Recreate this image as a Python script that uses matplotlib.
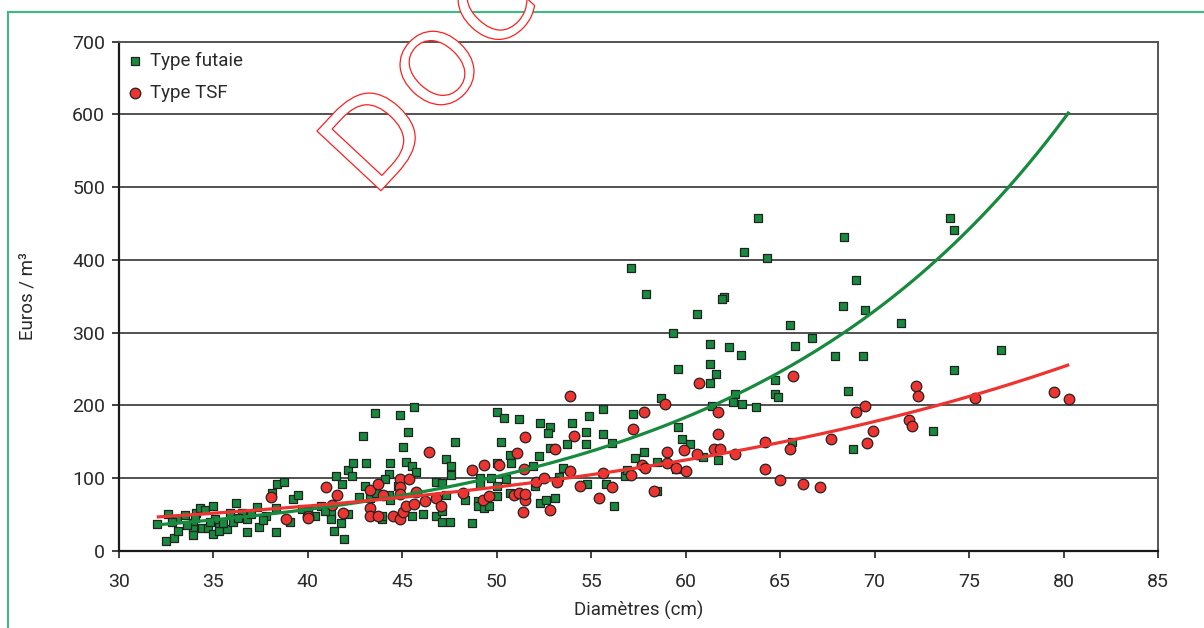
import numpy as np
import matplotlib
matplotlib.use("Agg")
import matplotlib.pyplot as plt
from matplotlib.lines import Line2D
from matplotlib.patches import PathPatch
from matplotlib.textpath import TextPath
from matplotlib.font_manager import FontProperties
from matplotlib.transforms import Affine2D, IdentityTransform

plt.rcParams['font.family'] = ['Liberation Sans Narrow', 'Roboto', 'DejaVu Sans']

# ---- données : diamètre (cm) / prix (euros par m3) ----
futaie_diam = [
    32.0, 32.5, 32.9, 33.1, 32.6, 33.05, 33.5, 33.9, 33.9, 33.9, 34.1, 34.3, 34.55, 34.96,
    34.4, 34.7, 35.0, 35.3, 35.3, 35.7, 35.1, 35.9, 36.2, 36.5, 36.05, 36.8, 36.8, 37.3,
    37.4, 37.8, 38.3, 38.1, 38.35, 38.75, 38.3, 39.05, 39.2, 39.5, 39.7, 40.4, 40.7, 41.2,
    41.2, 41.4, 41.9, 41.75, 42.1, 41.5, 41.8, 42.1, 42.35, 42.4, 42.7, 43.0, 43.1, 42.9,
    43.55, 44.35, 44.3, 44.1, 44.9, 45.3, 45.05, 45.2, 45.5, 45.6, 43.9, 43.9, 45.5, 44.3,
    43.3, 43.6, 44.35, 44.75, 32.8, 34.0, 34.8, 35.5, 36.3, 37.0, 37.6, 33.6, 40.0, 40.9,
    45.7, 46.1, 46.8, 46.8, 47.1, 47.3, 47.6, 47.6, 47.1, 47.1, 47.5, 48.7, 47.8, 48.3,
    49.1, 49.0, 49.0, 49.3, 49.6, 49.7, 49.1, 47.3, 50.0, 50.4, 51.2, 50.7, 50.75, 50.0,
    50.2, 50.5, 50.0, 50.7, 50.0, 51.9, 52.0, 52.3, 52.6, 53.1, 52.25, 52.3, 52.8, 52.7,
    52.8, 53.5, 53.3, 53.7, 54.0, 54.7, 54.7, 54.9, 55.6, 55.6, 56.1, 54.8, 55.8, 56.2,
    57.2, 58.7, 56.8, 56.9, 57.3, 57.8, 58.5, 58.5, 59.6, 59.8, 60.2, 60.9, 61.7, 59.5,
    59.6, 57.1, 57.9, 60.6, 59.3, 61.3, 61.3, 61.6, 61.3, 62.0, 61.9, 62.3, 62.9, 63.1,
    63.8, 64.3, 62.6, 62.5, 63.0, 63.7, 61.4, 64.7, 64.7, 64.9, 65.5, 65.8, 66.7, 65.6,
    68.4, 68.3, 69.0, 69.5, 67.9, 69.4, 68.6, 68.85, 71.4, 73.1, 74.0, 74.2, 74.2, 76.7,
]
futaie_prix = [
    37, 13, 17, 27, 50, 44, 49, 38, 30, 21, 52, 59, 56, 62,
    31, 31, 23, 34, 27, 30, 43, 52, 66, 52, 40, 44, 25, 60,
    33, 47, 25, 79, 91, 95, 59, 39, 71, 76, 57, 47, 61, 52,
    43, 27, 16, 38, 50, 102, 92, 111, 103, 120, 74, 89, 120, 157,
    189, 120, 105, 99, 187, 163, 143, 122, 116, 198, 43, 48, 47, 77,
    72, 79, 69, 89, 40, 45, 40, 38, 45, 50, 42, 35, 55, 55,
    108, 50, 47, 94, 93, 126, 117, 104, 54, 39, 39, 38, 150, 70,
    100, 68, 61, 59, 62, 100, 91, 77, 190, 182, 181, 132, 120, 120,
    150, 99, 89, 79, 75, 117, 89, 66, 70, 72, 130, 175, 170, 162,
    141, 114, 101, 146, 175, 163, 147, 185, 195, 160, 148, 92, 92, 62,
    188, 210, 102, 111, 127, 136, 122, 82, 170, 154, 147, 129, 124, 112,
    250, 389, 353, 326, 299, 284, 256, 243, 231, 349, 346, 280, 269, 411,
    457, 402, 216, 204, 202, 198, 199, 235, 216, 211, 311, 282, 292, 150,
    431, 336, 372, 331, 268, 267, 220, 140, 313, 165, 458, 441, 248, 276,
]

tsf_diam = [
    38.05, 38.85, 40.0, 40.0, 40.94, 41.55, 41.84, 41.3, 43.3, 43.7, 43.96, 43.3, 43.3, 43.7,
    44.5, 44.9, 45.05, 44.9, 45.35, 44.9, 44.9, 45.2, 45.6, 45.7, 46.2, 46.4, 46.8, 47.05,
    48.2, 48.7, 49.25, 49.3, 49.6, 50.1, 50.9, 51.05, 51.2, 51.4, 51.45, 51.5, 51.5, 51.5,
    52.1, 52.5, 52.8, 53.1, 53.2, 53.9, 53.9, 54.1, 54.4, 55.4, 55.6, 56.1, 57.1, 57.2,
    57.7, 57.85, 57.8, 58.3, 58.9, 59.0, 59.0, 59.5, 59.9, 60.0, 60.6, 60.7, 61.5, 61.7,
    61.7, 61.8, 62.6, 64.2, 64.2, 65.0, 65.5, 65.7, 66.2, 67.1, 67.7, 69.0, 69.5, 69.6,
    69.9, 71.8, 72.0, 72.2, 72.3, 75.3, 79.5, 80.3,
]
tsf_prix = [
    74, 43, 48, 45, 88, 76, 52, 63, 84, 91, 76, 59, 48, 48,
    48, 43, 53, 99, 99, 88, 78, 62, 64, 80, 68, 135, 72, 62,
    79, 111, 69, 118, 75, 118, 77, 134, 79, 53, 112, 69, 78, 156,
    94, 100, 56, 140, 94, 110, 213, 158, 89, 72, 107, 88, 104, 167,
    118, 114, 191, 82, 201, 136, 120, 114, 139, 110, 133, 230, 140, 191,
    160, 140, 133, 149, 112, 97, 140, 240, 92, 88, 153, 191, 199, 148,
    164, 180, 171, 227, 213, 210, 218, 209,
]

x_ticks = list(range(30, 90, 5))
y_ticks = list(range(0, 800, 100))

VERT = '#178a3e'
ROUGE = '#ee3431'
TEXTE = '#2a2a2a'


def tendance_expo(x, y, x_min, x_max):
    """Courbe de tendance exponentielle y = a.exp(b.x) (ajustement sur ln y)"""
    b, ln_a = np.polyfit(np.asarray(x), np.log(np.asarray(y)), 1)
    xs = np.linspace(x_min, x_max, 200)
    return xs, np.exp(ln_a) * np.exp(b * xs)


fig = plt.figure(figsize=(12.04, 6.28), dpi=100)
fig.patch.set_facecolor('white')
ax = fig.add_axes([119 / 1204, 1 - 550.6 / 628, 1039 / 1204, 508.9 / 628])

# grille horizontale
for v in y_ticks[1:]:
    ax.axhline(v, color='#222222', lw=1.1, zorder=1)

x_min = min(futaie_diam + tsf_diam)
x_max = max(futaie_diam + tsf_diam)

ax.scatter(futaie_diam, futaie_prix, marker='s', s=36, facecolor=VERT,
           edgecolor='#222222', linewidths=0.9, zorder=3, label='Type futaie')
ax.scatter(tsf_diam, tsf_prix, marker='o', s=58, facecolor=ROUGE,
           edgecolor='#222222', linewidths=0.9, zorder=4, label='Type TSF')

xs, ys = tendance_expo(futaie_diam, futaie_prix, x_min, x_max)
ax.plot(xs, ys, color=VERT, lw=2.3, zorder=5, solid_capstyle='butt')
xs, ys = tendance_expo(tsf_diam, tsf_prix, x_min, x_max)
ax.plot(xs, ys, color=ROUGE, lw=2.3, zorder=5, solid_capstyle='butt')

ax.set_xlim(30, 85)
ax.set_ylim(0, 700)
ax.set_xticks(x_ticks)
ax.set_yticks(y_ticks)
ax.tick_params(axis='both', direction='out', length=5, width=1.2, color='#222222',
               labelsize=14, labelcolor=TEXTE)
ax.tick_params(axis='x', pad=11)
ax.tick_params(axis='y', pad=5)
for side in ['left', 'bottom']:
    ax.spines[side].set_linewidth(1.6)
    ax.spines[side].set_color('#1a1a1a')
for side in ['top', 'right']:
    ax.spines[side].set_linewidth(1.4)
    ax.spines[side].set_color('#555555')

ax.set_xlabel('Diamètres (cm)', fontsize=13.5, color=TEXTE, labelpad=7)
ax.set_ylabel('Euros / m³', fontsize=13.5, color=TEXTE, labelpad=26)

leg = ax.legend(loc='upper left', frameon=False, fontsize=13.5, handlelength=0.6,
                handletextpad=0.5, labelspacing=0.72, borderaxespad=0.25,
                borderpad=0.3, scatterpoints=1)
for t in leg.get_texts():
    t.set_color(TEXTE)

# cadre vert de la page
cadre = '#3dbb7e'
fig.add_artist(Line2D([7.5 / 1204, 7.5 / 1204], [0, 1 - 12 / 628], color=cadre, lw=1.5))
fig.add_artist(Line2D([7.5 / 1204, 1], [1 - 12 / 628, 1 - 12 / 628], color=cadre, lw=1.5))

# tampon "DOC" en contour rouge
prop = FontProperties(family='DejaVu Sans')
for lettre, (cx, cy), taille in zip('DOC', [(374, 134), (437, 68), (492, 6)],
                                    [120, 100, 100]):
    tp = TextPath((0, 0), lettre, size=taille, prop=prop)
    bb = tp.get_extents()
    tr = (Affine2D().translate(-(bb.x0 + bb.x1) / 2, -(bb.y0 + bb.y1) / 2)
          .rotate_deg(47).translate(cx, 628 - cy))
    fig.add_artist(PathPatch(tr.transform_path(tp), facecolor='white',
                             edgecolor='#ff2020', lw=0.9,
                             transform=IdentityTransform(), zorder=10))

fig.savefig('out.png', dpi=100, facecolor='white')
